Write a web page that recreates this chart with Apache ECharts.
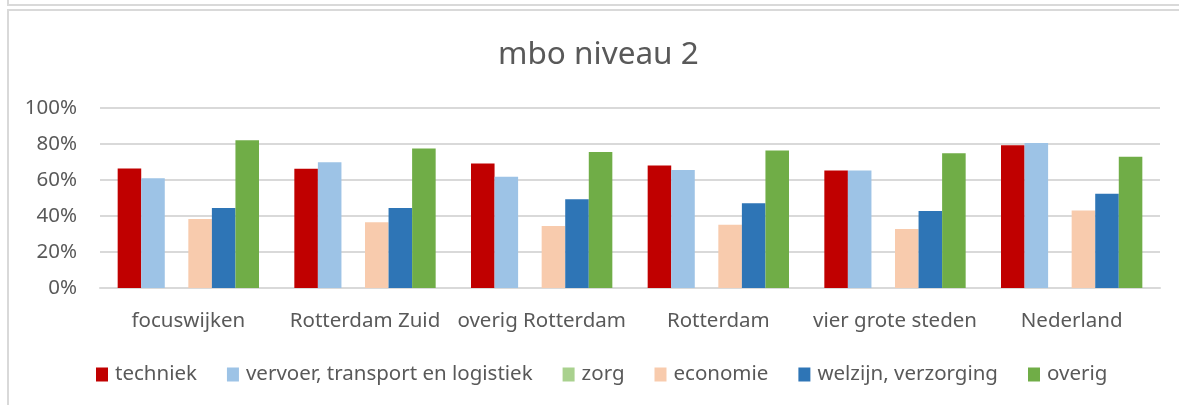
<!DOCTYPE html>
<html>
<head>
<meta charset="utf-8">
<script src="https://cdn.jsdelivr.net/npm/echarts@6/dist/echarts.min.js"></script>
<style>
  html, body { margin: 0; padding: 0; background: #fff; }
  #wrap { position: relative; width: 1179px; height: 405px; overflow: hidden; }
  .ln { position: absolute; background: #d9d9d9; }
  #chart { position: absolute; left: 0; top: 0; width: 1179px; height: 405px; }
</style>
</head>
<body>
<div id="wrap">
  <div class="ln" style="left:7px;top:0;width:2px;height:6px;"></div>
  <div class="ln" style="left:7px;top:4px;width:1172px;height:2px;"></div>
  <div class="ln" style="left:7px;top:9px;width:1172px;height:2px;"></div>
  <div class="ln" style="left:7px;top:9px;width:2px;height:396px;"></div>
  <div id="chart"></div>
</div>
<script>
const categories = ['focuswijken', 'Rotterdam Zuid', 'overig Rotterdam', 'Rotterdam', 'vier grote steden', 'Nederland'];
const seriesNames = ['techniek', 'vervoer, transport en logistiek', 'zorg', 'economie', 'welzijn, verzorging', 'overig'];
const techniek = [66.4, 66.2, 69.2, 68.1, 65.3, 79.3];
const vervoer = [61.0, 69.9, 61.8, 65.5, 65.3, 80.6];
const zorg = [null, null, null, null, null, null];
const economie = [38.4, 36.5, 34.5, 35.2, 32.8, 43.0];
const welzijn = [44.4, 44.5, 49.3, 47.1, 42.8, 52.4];
const overig = [82.1, 77.5, 75.5, 76.4, 74.9, 72.9];
const colors = ['#C00000', '#9DC3E6', '#A9D18E', '#F8CBAD', '#2E75B6', '#70AD47'];

const allData = [techniek, vervoer, zorg, economie, welzijn, overig];
const font = '"Noto Sans", sans-serif';

const chart = echarts.init(document.getElementById('chart'));
const option = {
  animation: false,
  color: colors,
  title: {
    text: 'mbo niveau 2',
    left: 493,
    top: 34,
    textStyle: { fontFamily: font, fontSize: 31.5, fontWeight: 'normal', color: '#595959' }
  },
  grid: { left: 100, right: 19, top: 108, bottom: 117 },
  legend: {
    bottom: 15,
    left: 91,
    padding: [5, 5, 5, 5],
    itemWidth: 12,
    itemHeight: 14,
    itemGap: 30,
    icon: 'rect',
    textStyle: { fontFamily: font, fontSize: 20.5, color: '#595959', padding: [0, 0, 0, 2] },
    data: seriesNames
  },
  xAxis: {
    type: 'category',
    data: categories,
    axisLine: { lineStyle: { color: '#d9d9d9', width: 2 } },
    axisTick: { show: false },
    axisLabel: { interval: 0, fontFamily: font, fontSize: 20.5, color: '#595959', margin: 23 }
  },
  yAxis: {
    type: 'value',
    min: 0,
    max: 100,
    interval: 20,
    axisLine: { show: false },
    axisTick: { show: false },
    splitLine: { lineStyle: { color: '#d9d9d9', width: 2 } },
    axisLabel: { fontFamily: font, fontSize: 20.5, color: '#595959', margin: 23, formatter: '{value}%' }
  },
  series: seriesNames.map((name, i) => ({
    name: name,
    type: 'bar',
    data: allData[i],
    barGap: '0%',
    barCategoryGap: '20%'
  }))
};
chart.setOption(option);
</script>
</body>
</html>
